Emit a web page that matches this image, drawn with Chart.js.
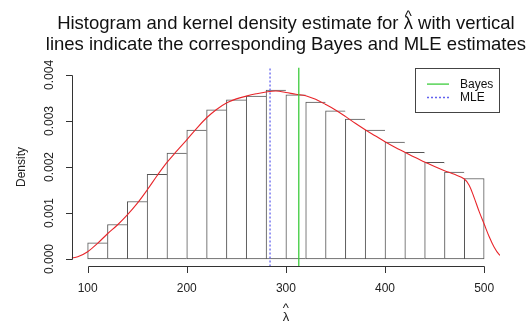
<!DOCTYPE html>
<html>
<head>
<meta charset="utf-8">
<script src="https://cdn.jsdelivr.net/npm/chart.js@4/dist/chart.umd.min.js"></script>
<style>
  html, body { margin: 0; padding: 0; background: #fff; }
  #wrap { width: 531px; height: 325px; }
</style>
</head>
<body>
<div id="wrap"><canvas id="histChart" width="531" height="325"></canvas></div>
<script>
// histogram of lambda-hat: bin midpoints (bin width 20) and densities
var binMids = [110, 130, 150, 170, 190, 210, 230, 250, 270, 290,
               310, 330, 350, 370, 390, 410, 430, 450, 470, 490];
var binDensity = [0.00035, 0.00075, 0.00125, 0.00184, 0.00230, 0.00280, 0.00324, 0.00346, 0.00354, 0.00367,
                  0.00357, 0.00341, 0.00322, 0.00304, 0.00280, 0.00254, 0.00232, 0.00210, 0.00189, 0.00175];

// kernel density estimate
var kdeX = [80, 90, 100, 110, 120, 130, 140, 150, 160, 170, 180, 190, 200, 210, 220, 230, 240, 250, 260, 270,
            280, 290, 300, 310, 320, 330, 340, 350, 360, 370, 380, 390, 400, 410, 420, 430, 440, 450, 460, 470,
            480, 485, 490, 495, 500, 505, 510, 515, 520];
var kdeY = [0.00001, 0.00005, 0.00016, 0.00034, 0.00055, 0.00074, 0.00096, 0.00121, 0.00150, 0.00181,
            0.00210, 0.00235, 0.00259, 0.00284, 0.00307, 0.00325, 0.00339, 0.00348, 0.00354, 0.00359,
            0.00363, 0.00365, 0.00362, 0.00358, 0.00355, 0.00347, 0.00336, 0.00324, 0.00310, 0.00295,
            0.00281, 0.00268, 0.00255, 0.00243, 0.00232, 0.00221, 0.00211, 0.00201, 0.00192, 0.00184,
            0.00174, 0.00160, 0.00133, 0.00103, 0.00076, 0.00049, 0.00026, 0.00010, 0.00003];

// point estimates
var bayesEstimate = 313;
var mleEstimate = 284;

var xTicks = [100, 200, 300, 400, 500];
var yTicks = [0, 0.001, 0.002, 0.003, 0.004];
var xRange = [84, 516];
var yRange = [-0.00016, 0.00416];

// title line 1 is split around the lambda so a hat can sit above it
var titleHead = 'Histogram and kernel density estimate for ';
var titleSym = '\u03bb';
var titleTail = ' with vertical';
var titleLine2 = 'lines indicate the corresponding Bayes and MLE estimates';
var legendLabels = ['Bayes', 'MLE'];

var FONT = '"Liberation Sans", Arial, Helvetica, sans-serif';
Chart.defaults.font.family = FONT;
Chart.defaults.color = '#222';

function pts(xs, ys) {
  return xs.map(function (x, i) { return { x: x, y: ys[i] }; });
}

// R-style axes: the line only spans the first to last tick, ticks point outward
var rAxes = {
  id: 'rAxes',
  afterDraw: function (chart) {
    var ctx = chart.ctx, xs = chart.scales.x, ys = chart.scales.y, area = chart.chartArea;
    var tl = 6.5;
    ctx.save();
    ctx.strokeStyle = '#333';
    ctx.lineWidth = 1;
    ctx.beginPath();
    var yb = Math.round(area.bottom) + 0.5;
    ctx.moveTo(Math.round(xs.getPixelForValue(xTicks[0])) + 0.5, yb);
    ctx.lineTo(Math.round(xs.getPixelForValue(xTicks[xTicks.length - 1])) + 0.5, yb);
    xTicks.forEach(function (v) {
      var p = Math.round(xs.getPixelForValue(v)) + 0.5;
      ctx.moveTo(p, yb);
      ctx.lineTo(p, yb + tl);
    });
    var xl = Math.round(area.left) + 0.5;
    ctx.moveTo(xl, Math.round(ys.getPixelForValue(yTicks[0])) + 0.5);
    ctx.lineTo(xl, Math.round(ys.getPixelForValue(yTicks[yTicks.length - 1])) + 0.5);
    yTicks.forEach(function (v) {
      var p = Math.round(ys.getPixelForValue(v)) + 0.5;
      ctx.moveTo(xl, p);
      ctx.lineTo(xl - tl, p);
    });
    ctx.stroke();
    ctx.restore();
  }
};

// two-line main title centred over the plot region
var rTitle = {
  id: 'rTitle',
  afterDraw: function (chart) {
    var ctx = chart.ctx, area = chart.chartArea;
    var cx = (area.left + area.right) / 2;
    ctx.save();
    ctx.fillStyle = '#111';
    ctx.font = '18.5px ' + FONT;
    ctx.textBaseline = 'alphabetic';
    var line1 = titleHead + titleSym + titleTail;
    var x0 = cx - ctx.measureText(line1).width / 2;
    ctx.textAlign = 'left';
    ctx.fillText(line1, x0, 29);
    var symX = x0 + ctx.measureText(titleHead).width + ctx.measureText(titleSym).width / 2;
    ctx.textAlign = 'center';
    ctx.font = '15px ' + FONT;
    ctx.fillText('^', symX, 21);
    ctx.font = '18.5px ' + FONT;
    ctx.fillText(titleLine2, cx, 50);
    ctx.restore();
  }
};

// boxed legend in the top-right corner of the plot region
var rLegend = {
  id: 'rLegend',
  afterDraw: function (chart) {
    var ctx = chart.ctx, area = chart.chartArea;
    var w = 85, h = 44;
    var x0 = area.right - w, y0 = area.top;
    ctx.save();
    ctx.strokeStyle = '#444';
    ctx.lineWidth = 1;
    ctx.strokeRect(Math.round(x0) + 0.5, Math.round(y0) + 0.5, w - 1, h);
    ctx.font = '12px ' + FONT;
    ctx.textBaseline = 'middle';
    ctx.textAlign = 'left';
    legendLabels.forEach(function (label, i) {
      var ds = chart.data.datasets.find(function (d) { return d.label === label; });
      var y = y0 + 16.5 + i * 13.4;
      ctx.strokeStyle = ds.borderColor;
      ctx.lineWidth = ds.borderWidth;
      ctx.setLineDash(ds.borderDash || []);
      ctx.beginPath();
      ctx.moveTo(x0 + 12, y);
      ctx.lineTo(x0 + 34, y);
      ctx.stroke();
      ctx.setLineDash([]);
      ctx.fillStyle = '#111';
      ctx.fillText(label, x0 + 45, y + 0.5);
    });
    ctx.restore();
  }
};

var lastBin = binMids.length - 1;

new Chart(document.getElementById('histChart'), {
  type: 'bar',
  data: {
    datasets: [
      {
        label: 'Histogram',
        data: pts(binMids, binDensity),
        backgroundColor: '#ffffff',
        borderColor: '#555',
        borderSkipped: false,
        borderWidth: function (c) {
          return { left: 1, top: 1, bottom: 1, right: c.dataIndex === lastBin ? 1 : 0 };
        },
        barPercentage: 1,
        categoryPercentage: 1,
        order: 4
      },
      {
        type: 'line',
        label: 'Density',
        data: pts(kdeX, kdeY),
        borderColor: '#e8262b',
        borderWidth: 1.1,
        pointRadius: 0,
        tension: 0.35,
        fill: false,
        order: 3
      },
      {
        type: 'line',
        label: 'Bayes',
        data: [{ x: bayesEstimate, y: yRange[0] }, { x: bayesEstimate, y: yRange[1] }],
        borderColor: '#3ccc3c',
        borderWidth: 1.3,
        pointRadius: 0,
        fill: false,
        order: 2
      },
      {
        type: 'line',
        label: 'MLE',
        data: [{ x: mleEstimate, y: yRange[0] }, { x: mleEstimate, y: yRange[1] }],
        borderColor: '#6262ee',
        borderWidth: 1.3,
        borderDash: [2, 2],
        pointRadius: 0,
        fill: false,
        order: 1
      }
    ]
  },
  options: {
    responsive: false,
    devicePixelRatio: 1,
    animation: false,
    layout: { padding: { top: 67.6, right: 31, left: 0, bottom: 0 } },
    plugins: {
      legend: { display: false },
      tooltip: { enabled: false },
      title: { display: false }
    },
    scales: {
      x: {
        type: 'linear',
        min: xRange[0],
        max: xRange[1],
        offset: false,
        grid: { display: false, drawTicks: false },
        border: { display: false },
        afterBuildTicks: function (s) { s.ticks = xTicks.map(function (v) { return { value: v }; }); },
        afterFit: function (s) { s.height = 58.6; },
        ticks: { padding: 15, maxRotation: 0, autoSkip: false, font: { size: 12 } },
        // hat stacked over lambda
        title: {
          display: true,
          text: ['^', '\u03bb'],
          font: { size: 13, lineHeight: 0.72 },
          padding: { top: 0, bottom: 3 }
        }
      },
      y: {
        type: 'linear',
        min: yRange[0],
        max: yRange[1],
        grid: { display: false, drawTicks: false },
        border: { display: false },
        afterBuildTicks: function (s) { s.ticks = yTicks.map(function (v) { return { value: v }; }); },
        afterFit: function (s) { s.width = 71.8; },
        ticks: {
          minRotation: 90,
          maxRotation: 90,
          crossAlign: 'center',
          padding: 7,
          autoSkip: false,
          font: { size: 12 },
          callback: function (v) { return v.toFixed(3); }
        },
        title: { display: true, text: 'Density', font: { size: 12 }, padding: { top: 14.5, bottom: 0 } }
      }
    }
  },
  plugins: [rAxes, rTitle, rLegend]
});
</script>
</body>
</html>
